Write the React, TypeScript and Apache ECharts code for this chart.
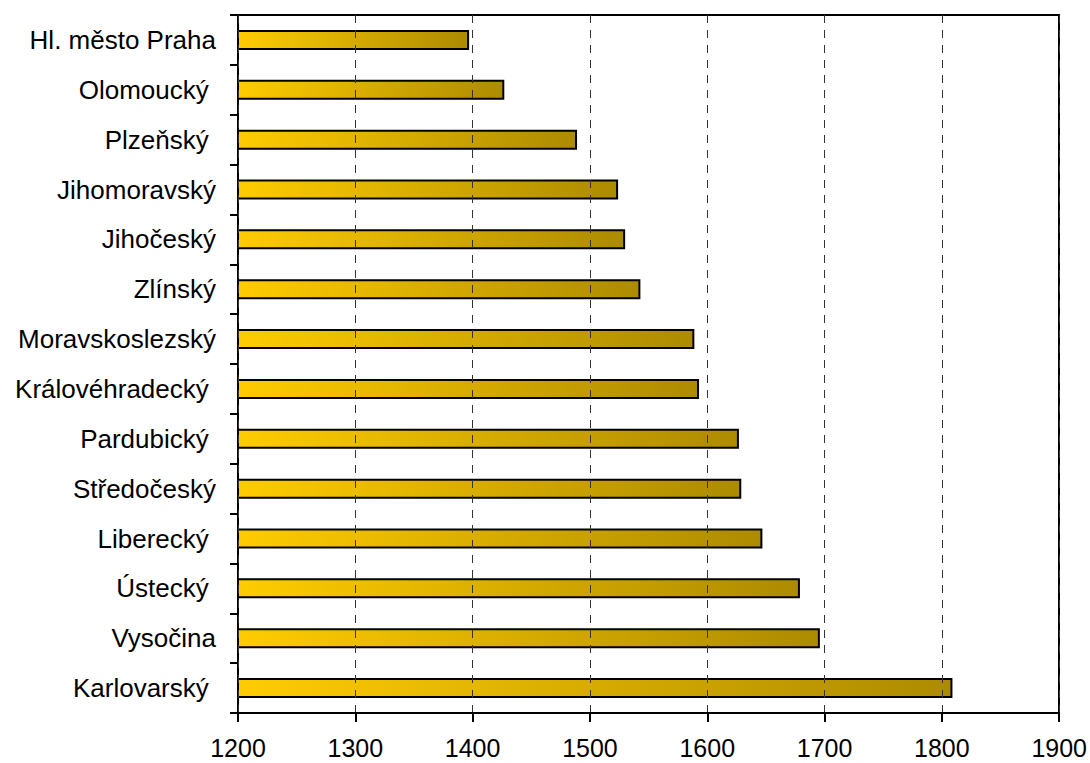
import React, { useEffect, useRef } from "react";
import * as echarts from "echarts";

const categories = [
  "Hl. město Praha",
  "Olomoucký ",
  "Plzeňský ",
  "Jihomoravský",
  "Jihočeský",
  "Zlínský",
  "Moravskoslezský",
  "Královéhradecký ",
  "Pardubický ",
  "Středočeský",
  "Liberecký ",
  "Ústecký ",
  "Vysočina",
  "Karlovarský ",
];

const values = [1397, 1427, 1489, 1524, 1530, 1543, 1589, 1593, 1627, 1629, 1647, 1679, 1696, 1809];

const xMin = 1200;
const xMax = 1900;
const xStep = 100;

export default function App() {
  const ref = useRef<HTMLDivElement>(null);
  useEffect(() => {
    if (!ref.current) return;
    const chart = echarts.init(ref.current, null, { renderer: "svg" });
    const font = "'Liberation Sans', Arial, sans-serif";
    chart.setOption({
      animation: false,
      backgroundColor: "#ffffff",
      grid: {
        left: 238,
        right: 30,
        top: 15,
        bottom: 50,
        containLabel: false,
      },
      xAxis: [
        {
          type: "value",
          min: xMin,
          max: xMax,
          interval: xStep,
          axisLine: { show: true, lineStyle: { color: "#000", width: 2 } },
          axisTick: { show: true, length: 9, lineStyle: { color: "#000", width: 2 } },
          axisLabel: {
            color: "#000",
            fontFamily: font,
            fontSize: 25,
            margin: 22,
            formatter: (v: number) => String(v),
          },
          splitLine: {
            show: true,
            lineStyle: { color: "#333", width: 1, type: [8, 7] },
          },
          z: 3,
        },
        {
          type: "value",
          position: "top",
          min: xMin,
          max: xMax,
          interval: xStep,
          axisLine: { show: true, onZero: false, lineStyle: { color: "#000", width: 2 } },
          axisTick: { show: false },
          axisLabel: { show: false },
          splitLine: { show: false },
        },
      ],
      yAxis: [
        {
          type: "category",
          data: categories,
          inverse: true,
          axisLine: { show: true, lineStyle: { color: "#000", width: 2 } },
          axisTick: { show: true, length: 8, lineStyle: { color: "#000", width: 2 } },
          axisLabel: { color: "#000", fontFamily: font, fontSize: 26, margin: 22 },
          splitLine: { show: false },
        },
        {
          type: "category",
          data: categories,
          inverse: true,
          position: "right",
          axisLine: { show: true, onZero: false, lineStyle: { color: "#000", width: 2 } },
          axisTick: { show: false },
          axisLabel: { show: false },
          splitLine: { show: false },
        },
      ],
      series: [
        {
          type: "bar",
          xAxisIndex: 0,
          yAxisIndex: 0,
          data: values,
          barWidth: 20,
          itemStyle: {
            color: new echarts.graphic.LinearGradient(0, 0, 1, 0, [
              { offset: 0, color: "#FFCC00" },
              { offset: 1, color: "#AD8B00" },
            ]),
            borderColor: "#000",
            borderWidth: 2,
          },
        },
      ],
    });
    return () => chart.dispose();
  }, []);
  return (
    <div
      ref={ref}
      style={{ position: "absolute", left: 0, top: 0, width: 1090, height: 763 }}
    />
  );
}
